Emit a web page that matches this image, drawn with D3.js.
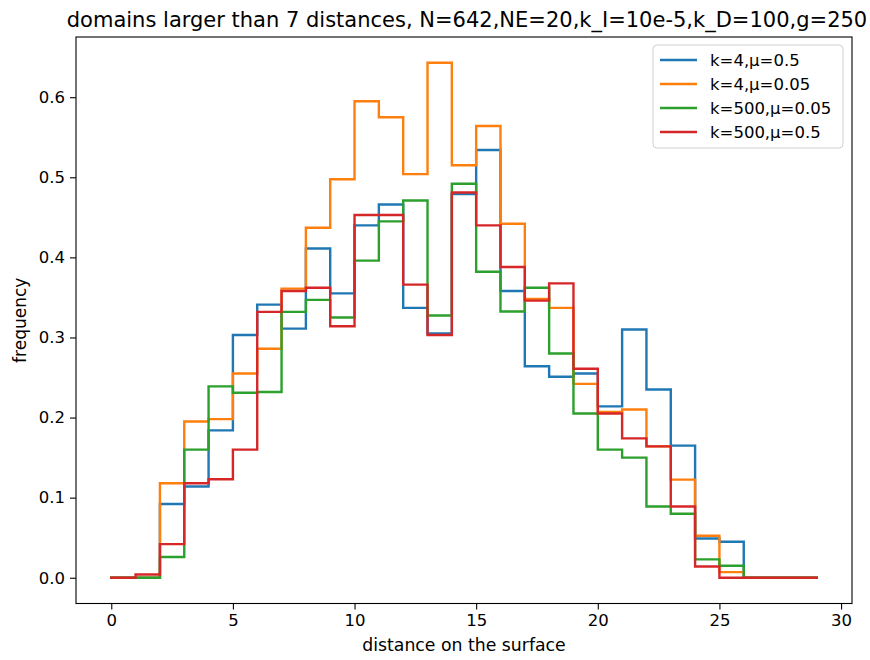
<!DOCTYPE html>
<html>
<head>
<meta charset="utf-8">
<script src="https://cdn.jsdelivr.net/npm/d3@7"></script>
<style>
  html, body { margin: 0; padding: 0; background: #fff; }
  svg { display: block; font-family: "DejaVu Sans", sans-serif; }
</style>
</head>
<body>
<svg id="chart" width="870" height="660"></svg>
<script>
// distance bins (left edges) 0..29
const distances = d3.range(0, 30);
const seriesNames = ["k=4,μ=0.5", "k=4,μ=0.05", "k=500,μ=0.05", "k=500,μ=0.5"];
const seriesColors = ["#1f77b4", "#ff7f0e", "#2ca02c", "#d62728"];
const blueValues = [0, 0, 0.092, 0.114, 0.184, 0.303, 0.341, 0.311, 0.411, 0.355, 0.44, 0.466, 0.337, 0.305, 0.479, 0.534, 0.358, 0.264, 0.251, 0.255, 0.214, 0.31, 0.235, 0.165, 0.049, 0.045, 0, 0, 0, 0];
const orangeValues = [0, 0, 0.118, 0.195, 0.198, 0.255, 0.286, 0.361, 0.437, 0.4975, 0.595, 0.575, 0.504, 0.643, 0.515, 0.564, 0.442, 0.348, 0.337, 0.242, 0.207, 0.21, 0.164, 0.1225, 0.0525, 0.007, 0, 0, 0, 0];
const greenValues = [0, 0, 0.026, 0.16, 0.239, 0.231, 0.232, 0.332, 0.347, 0.325, 0.396, 0.445, 0.471, 0.3275, 0.492, 0.382, 0.3325, 0.362, 0.28, 0.205, 0.16, 0.15, 0.089, 0.08, 0.023, 0.015, 0, 0, 0, 0];
const redValues = [0, 0.004, 0.042, 0.118, 0.123, 0.16, 0.332, 0.358, 0.362, 0.314, 0.453, 0.453, 0.366, 0.303, 0.481, 0.44, 0.388, 0.346, 0.3675, 0.261, 0.205, 0.174, 0.164, 0.089, 0.014, 0, 0, 0, 0, 0];
const xTicks = [0, 5, 10, 15, 20, 25, 30];
const yTicks = [0, 0.1, 0.2, 0.3, 0.4, 0.5, 0.6];
const titleText = "domains larger than 7 distances, N=642,NE=20,k_I=10e-5,k_D=100,g=250";
const xLabel = "distance on the surface";
const yLabel = "frequency";

const allValues = [blueValues, orangeValues, greenValues, redValues];

const svg = d3.select("#chart");
const L = 76, R = 852, T = 37, B = 603.5;

const xExt = d3.extent(distances);
const xPad = (xExt[1] - xExt[0]) * 0.05;
const yMax = d3.max(allValues.flat()), yMin = 0;
const yPad = (yMax - yMin) * 0.05;

const x = d3.scaleLinear().domain([xExt[0] - xPad, xExt[1] + xPad]).range([L, R]);
const y = d3.scaleLinear().domain([yMin - yPad, yMax + yPad]).range([B, T]);

// lines
const line = d3.line()
  .x(d => x(d[0]))
  .y(d => y(d[1]))
  .curve(d3.curveStepAfter);

allValues.forEach((vals, i) => {
  svg.append("path")
    .datum(distances.map((d, j) => [d, vals[j]]))
    .attr("fill", "none")
    .attr("stroke", seriesColors[i])
    .attr("stroke-width", 2.4)
    .attr("stroke-linejoin", "miter")
    .attr("stroke-linecap", "square")
    .attr("d", line);
});

// axes
const fontSize = 16.5;
const xAxis = svg.append("g")
  .attr("transform", `translate(0,${B})`)
  .call(d3.axisBottom(x).tickValues(xTicks).tickFormat(d3.format("d")).tickSize(6).tickPadding(5));
const yAxis = svg.append("g")
  .attr("transform", `translate(${L},0)`)
  .call(d3.axisLeft(y).tickValues(yTicks).tickFormat(d3.format(".1f")).tickSize(6).tickPadding(5));
[xAxis, yAxis].forEach(g => {
  g.select(".domain").remove();
  g.selectAll(".tick line").attr("stroke", "#000").attr("stroke-width", 1.1);
  g.selectAll(".tick text").attr("fill", "#000").style("font-size", fontSize + "px").style("font-family", "DejaVu Sans");
});

// frame
svg.append("rect")
  .attr("x", L).attr("y", T)
  .attr("width", R - L).attr("height", B - T)
  .attr("fill", "none").attr("stroke", "#000").attr("stroke-width", 1.1);

// title and labels
svg.append("text")
  .attr("x", (L + R) / 2 + 3).attr("y", 27)
  .attr("text-anchor", "middle")
  .style("font-size", "21px")
  .text(titleText);
svg.append("text")
  .attr("x", (L + R) / 2).attr("y", 651)
  .attr("text-anchor", "middle")
  .style("font-size", "17.3px")
  .text(xLabel);
svg.append("text")
  .attr("transform", `translate(26,${(T + B) / 2}) rotate(-90)`)
  .attr("text-anchor", "middle")
  .style("font-size", "17px")
  .text(yLabel);

// legend
const lg = svg.append("g");
lg.append("rect")
  .attr("x", 653).attr("y", 45).attr("width", 190).attr("height", 103)
  .attr("rx", 4).attr("ry", 4)
  .attr("fill", "#fff").attr("fill-opacity", 0.8)
  .attr("stroke", "#d0d0d0").attr("stroke-width", 1);
seriesNames.forEach((name, i) => {
  const cy = 60 + i * 24;
  lg.append("line")
    .attr("x1", 660).attr("x2", 697).attr("y1", cy).attr("y2", cy)
    .attr("stroke", seriesColors[i]).attr("stroke-width", 2.4);
  lg.append("text")
    .attr("x", 710).attr("y", cy + 6)
    .style("font-size", "16.5px")
    .text(name);
});
</script>
</body>
</html>
